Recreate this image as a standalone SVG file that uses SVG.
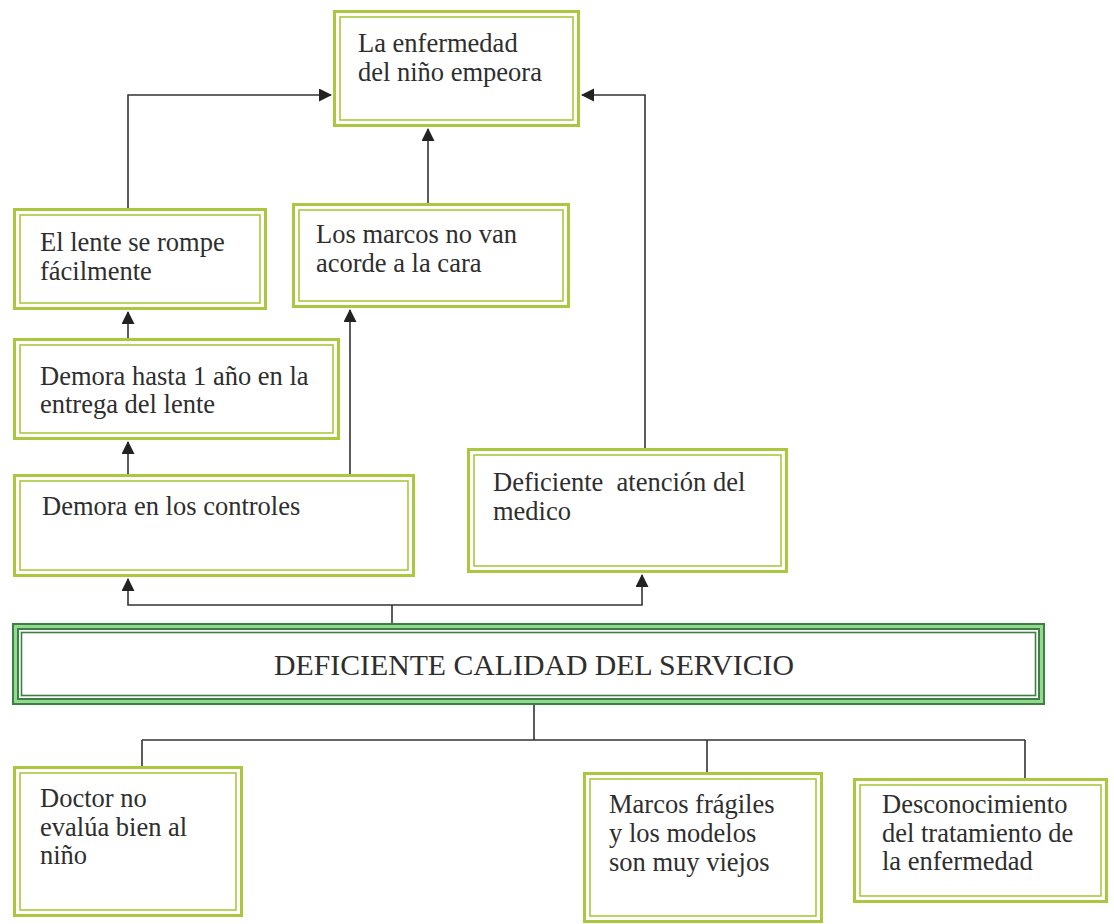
<svg xmlns="http://www.w3.org/2000/svg" width="1114" height="924" viewBox="0 0 1114 924">
<defs>
<style>
.o{fill:#fff;stroke:#a9c83e;stroke-width:3}
.i{fill:none;stroke:#a9c83e;stroke-width:1.6}
.mo{fill:#fff;stroke:#3f7f45;stroke-width:7}
.mm{fill:none;stroke:#8fdc8f;stroke-width:3}
.mi{fill:none;stroke:#3f7f45;stroke-width:1.6}
.t{font-family:'Liberation Serif','Times New Roman',serif;font-size:26.5px;fill:#2e2e2e}
.c{fill:none;stroke:#333;stroke-width:1.6}
</style>
<marker id="ar" markerUnits="userSpaceOnUse" markerWidth="14" markerHeight="14" refX="12" refY="6.5" orient="auto">
<path d="M0,0 L13,6.5 L0,13 z" fill="#222"/>
</marker>
</defs>
<rect width="1114" height="924" fill="#fff"/>
<g id="connectors">
<path class="c" d="M128,208 V95 H331" marker-end="url(#ar)"/>
<path class="c" d="M645,448 V95 H582" marker-end="url(#ar)"/>
<path class="c" d="M428,203 V129" marker-end="url(#ar)"/>
<path class="c" d="M128,338 V312" marker-end="url(#ar)"/>
<path class="c" d="M128,474 V442" marker-end="url(#ar)"/>
<path class="c" d="M350,474 V310" marker-end="url(#ar)"/>
<path class="c" d="M392,623 V605"/>
<path class="c" d="M392,605 H128 V579" marker-end="url(#ar)"/>
<path class="c" d="M392,605 H642 V575" marker-end="url(#ar)"/>
<path class="c" d="M534,705 V740 M142,740 H1025 M142,740 V766 M707,740 V772 M1025,740 V778"/>
</g>
<g id="n1">
<rect class="o" x="334.5" y="11.5" width="244" height="114"/>
<rect class="i" x="340" y="17" width="233" height="103"/>
<text class="t" x="358" y="52">La enfermedad<tspan x="358" dy="29">del niño empeora</tspan></text>
</g>
<g id="n2">
<rect class="o" x="14.5" y="209.5" width="251" height="99"/>
<rect class="i" x="20" y="215" width="240" height="88"/>
<text class="t" x="40" y="251">El lente se rompe<tspan x="40" dy="29">fácilmente</tspan></text>
</g>
<g id="n3">
<rect class="o" x="293.5" y="204.5" width="275" height="102"/>
<rect class="i" x="299" y="210" width="264" height="91"/>
<text class="t" x="316" y="243">Los marcos no van<tspan x="316" dy="29">acorde a la cara</tspan></text>
</g>
<g id="n4">
<rect class="o" x="14.5" y="339.5" width="324" height="99"/>
<rect class="i" x="20" y="345" width="313" height="88"/>
<text class="t" x="40" y="385">Demora hasta 1 año en la<tspan x="40" dy="28">entrega del lente</tspan></text>
</g>
<g id="n5">
<rect class="o" x="14.5" y="475.5" width="399" height="100"/>
<rect class="i" x="20" y="481" width="388" height="89"/>
<text class="t" x="42" y="515">Demora en los controles</text>
</g>
<g id="n6">
<rect class="o" x="468.5" y="449.5" width="318" height="122"/>
<rect class="i" x="474" y="455" width="307" height="111"/>
<text class="t" x="493" y="491" xml:space="preserve">Deficiente  atención del<tspan x="493" dy="29">medico</tspan></text>
</g>
<g id="main">
<rect class="mo" x="15.5" y="626.5" width="1026" height="75"/>
<rect class="mm" x="15.5" y="626.5" width="1026" height="75"/>
<rect class="mi" x="21.5" y="632.5" width="1014" height="63"/>
<text class="t" x="534" y="675" text-anchor="middle" style="font-size:30px" textLength="520" lengthAdjust="spacingAndGlyphs">DEFICIENTE CALIDAD DEL SERVICIO</text>
</g>
<g id="n7">
<rect class="o" x="14.5" y="767.5" width="227" height="148"/>
<rect class="i" x="20" y="773" width="216" height="137"/>
<text class="t" x="40" y="807">Doctor no<tspan x="40" dy="29">evalúa bien al</tspan><tspan x="40" dy="28">niño</tspan></text>
</g>
<g id="n8">
<rect class="o" x="584.5" y="773.5" width="237" height="148"/>
<rect class="i" x="590" y="779" width="226" height="137"/>
<text class="t" x="609" y="813">Marcos frágiles<tspan x="609" dy="29">y los modelos</tspan><tspan x="609" dy="29">son muy viejos</tspan></text>
</g>
<g id="n9">
<rect class="o" x="854.5" y="779.5" width="252" height="122"/>
<rect class="i" x="860" y="785" width="241" height="111"/>
<text class="t" x="882" y="813">Desconocimiento<tspan x="882" dy="29">del tratamiento de</tspan><tspan x="882" dy="28">la enfermedad</tspan></text>
</g>
</svg>
